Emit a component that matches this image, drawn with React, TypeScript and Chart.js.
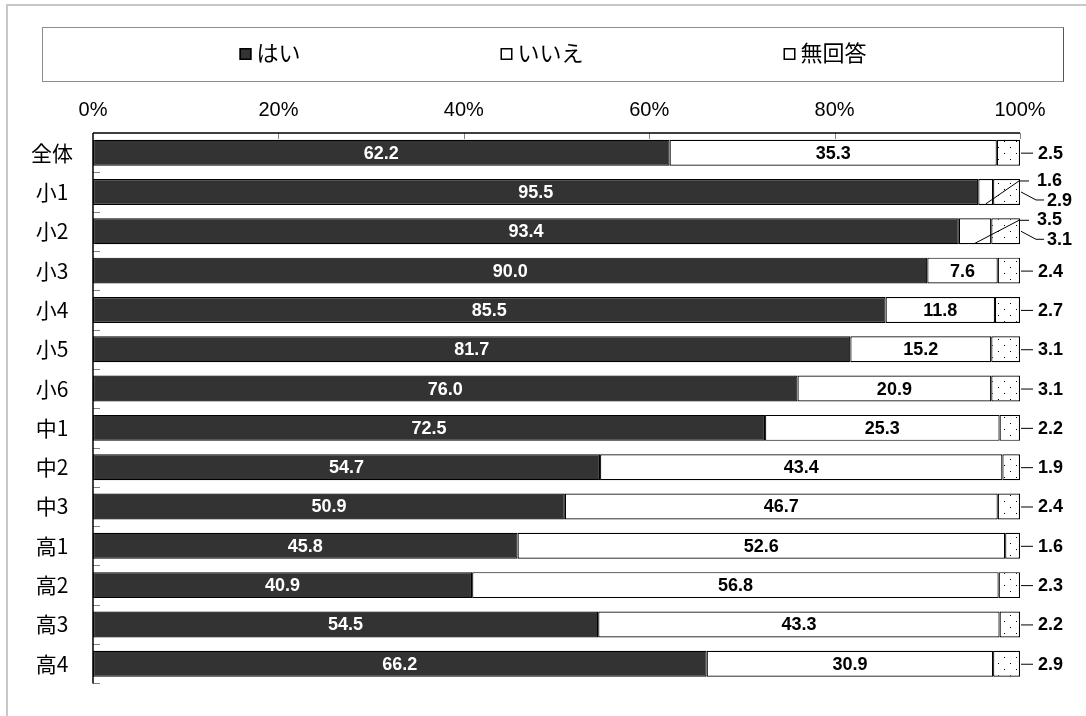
import React, { useEffect, useRef } from 'react';
import { Chart, registerables } from 'chart.js';

Chart.register(...registerables);

const categories = ['全体', '小1', '小2', '小3', '小4', '小5', '小6', '中1', '中2', '中3', '高1', '高2', '高3', '高4'];
const yesValues = [62.2, 95.5, 93.4, 90.0, 85.5, 81.7, 76.0, 72.5, 54.7, 50.9, 45.8, 40.9, 54.5, 66.2];
const noValues = [35.3, 1.6, 3.5, 7.6, 11.8, 15.2, 20.9, 25.3, 43.4, 46.7, 52.6, 56.8, 43.3, 30.9];
const naValues = [2.5, 2.9, 3.1, 2.4, 2.7, 3.1, 3.1, 2.2, 1.9, 2.4, 1.6, 2.3, 2.2, 2.9];
const seriesNames = ['はい', 'いいえ', '無回答'];
const tickStep = 20;

const CJK = '"Noto Sans CJK JP", "Noto Sans", sans-serif';
const NUM = '"Liberation Sans", Arial, sans-serif';
const NARROW = '"Liberation Sans Narrow", "Liberation Sans", Arial, sans-serif';

function makeDotPattern(): CanvasPattern | string {
  const c = document.createElement('canvas');
  c.width = 12;
  c.height = 12;
  const g = c.getContext('2d');
  if (!g) return '#fff';
  g.fillStyle = '#fff';
  g.fillRect(0, 0, 12, 12);
  g.fillStyle = '#000';
  g.fillRect(2, 3, 1, 1);
  g.fillRect(8, 9, 1, 1);
  return g.createPattern(c, 'repeat') ?? '#fff';
}

const framePlugin = {
  id: 'frameLegend',
  afterDraw(chart: any) {
    const ctx = chart.ctx as CanvasRenderingContext2D;
    ctx.save();
    // outer frame
    ctx.strokeStyle = '#c8c8c8';
    ctx.lineWidth = 2;
    ctx.beginPath();
    ctx.moveTo(7, 716);
    ctx.lineTo(7, 5);
    ctx.lineTo(1086, 5);
    ctx.stroke();
    // legend box
    ctx.strokeStyle = '#8c8c8c';
    ctx.lineWidth = 1;
    ctx.strokeRect(42.5, 27.5, 1021, 54);
    ctx.strokeStyle = '#555';
    ctx.beginPath();
    ctx.moveTo(1063.5, 27.5);
    ctx.lineTo(1063.5, 81.5);
    ctx.stroke();
    // legend items
    ctx.font = `22px ${CJK}`;
    ctx.textBaseline = 'middle';
    ctx.textAlign = 'left';
    const box = 12;
    const gapText = 5;
    const gapItems = 200;
    const widths = seriesNames.map((n) => box + gapText + ctx.measureText(n).width);
    const total = widths.reduce((a, b) => a + b, 0) + gapItems * (seriesNames.length - 1);
    let x = 553 - total / 2;
    const cy = 54;
    seriesNames.forEach((n, i) => {
      ctx.fillStyle = i === 0 ? '#333333' : '#ffffff';
      ctx.fillRect(x, cy - box / 2, box, box);
      ctx.strokeStyle = '#000';
      ctx.lineWidth = 1.5;
      ctx.strokeRect(x + 0.75, cy - box / 2 + 0.75, box - 1.5, box - 1.5);
      ctx.fillStyle = '#000';
      ctx.fillText(n, x + box + gapText, cy - 1);
      x += widths[i] + gapItems;
    });
    ctx.restore();
  },
};

const axesPlugin = {
  id: 'axesDeco',
  afterDatasetsDraw(chart: any) {
    const ctx = chart.ctx as CanvasRenderingContext2D;
    const { left, right, top, bottom } = chart.chartArea;
    const xs = chart.scales.x;
    const n = categories.length;
    const catH = (bottom - top) / n;
    ctx.save();
    // small marks on left axis at category boundaries
    ctx.strokeStyle = '#808080';
    ctx.lineWidth = 1;
    for (let k = 1; k <= n; k++) {
      const y = Math.round(top + k * catH) + 0.5;
      ctx.beginPath();
      ctx.moveTo(left, y);
      ctx.lineTo(left + 7, y);
      ctx.stroke();
    }
    // small marks at top for x ticks
    for (let v = tickStep; v <= 100; v += tickStep) {
      const x = Math.round(xs.getPixelForValue(v)) + 0.5;
      ctx.beginPath();
      ctx.moveTo(x, top);
      ctx.lineTo(x, top + 6);
      ctx.stroke();
    }
    // axis lines
    ctx.strokeStyle = '#000';
    ctx.lineWidth = 1.5;
    ctx.beginPath();
    ctx.moveTo(left, top);
    ctx.lineTo(right, top);
    ctx.moveTo(left, top);
    ctx.lineTo(left, bottom);
    ctx.stroke();
    ctx.restore();
  },
};

const labelPlugin = {
  id: 'valueLabels',
  afterDatasetsDraw(chart: any) {
    const ctx = chart.ctx as CanvasRenderingContext2D;
    const xs = chart.scales.x;
    const x100 = xs.getPixelForValue(100);
    const yesMeta = chart.getDatasetMeta(0);
    const noMeta = chart.getDatasetMeta(1);
    ctx.save();
    ctx.textBaseline = 'middle';
    ctx.lineWidth = 1;
    ctx.strokeStyle = '#000';
    categories.forEach((_, j) => {
      const ye = yesMeta.data[j] as any;
      const ne = noMeta.data[j] as any;
      const cy = ye.y;
      const h = ye.height;
      ctx.font = `bold 18px ${NUM}`;
      // yes label
      ctx.fillStyle = '#fff';
      ctx.textAlign = 'center';
      ctx.fillText(yesValues[j].toFixed(1), (ye.x + ye.base) / 2, cy + 1);
      ctx.fillStyle = '#000';
      if (noValues[j] >= 5) {
        ctx.textAlign = 'center';
        ctx.fillText(noValues[j].toFixed(1), (ne.x + ne.base) / 2, cy + 1);
        // na label with short leader
        ctx.beginPath();
        ctx.moveTo(x100 + 1, cy + 0.5);
        ctx.lineTo(x100 + 13, cy + 0.5);
        ctx.stroke();
        ctx.textAlign = 'left';
        ctx.fillText(naValues[j].toFixed(1), x100 + 18, cy + 1);
      } else {
        const midX = (ne.x + ne.base) / 2;
        ctx.beginPath();
        ctx.moveTo(midX, cy + h / 2 - 1);
        ctx.lineTo(x100 - 1, cy - 11);
        ctx.lineTo(x100 + 9, cy - 11);
        ctx.stroke();
        ctx.textAlign = 'left';
        ctx.fillText(noValues[j].toFixed(1), x100 + 17, cy - 11);
        ctx.beginPath();
        ctx.moveTo(x100 + 1, cy);
        ctx.lineTo(x100 + 16, cy + 8);
        ctx.lineTo(x100 + 24, cy + 8);
        ctx.stroke();
        ctx.fillText(naValues[j].toFixed(1), x100 + 27, cy + 9);
      }
    });
    ctx.restore();
  },
};

export default function App() {
  const ref = useRef<HTMLCanvasElement>(null);
  useEffect(() => {
    if (!ref.current) return;
    const dots = makeDotPattern();
    const chart = new Chart(ref.current, {
      type: 'bar',
      data: {
        labels: categories,
        datasets: [
          { label: seriesNames[0], data: yesValues, backgroundColor: '#333333', borderColor: '#000', borderWidth: 1.2, borderSkipped: false },
          { label: seriesNames[1], data: noValues, backgroundColor: '#ffffff', borderColor: '#000', borderWidth: 1.2, borderSkipped: false },
          { label: seriesNames[2], data: naValues, backgroundColor: dots as any, borderColor: '#000', borderWidth: 1.2, borderSkipped: false },
        ],
      },
      options: {
        indexAxis: 'y',
        responsive: false,
        animation: false,
        devicePixelRatio: 1,
        layout: { padding: { left: 0, top: 0, right: 66, bottom: 27 } },
        datasets: { bar: { categoryPercentage: 1, barPercentage: 0.66 } },
        plugins: { legend: { display: false }, tooltip: { enabled: false } },
        scales: {
          x: {
            type: 'linear',
            position: 'top',
            min: 0,
            max: 100,
            stacked: true,
            grid: { display: false, drawTicks: false },
            border: { display: false },
            ticks: {
              stepSize: tickStep,
              autoSkip: false,
              maxRotation: 0,
              padding: 11,
              color: '#000',
              font: { family: NARROW, size: 20 },
              callback: (v: any) => `${v}%`,
            },
            afterFit: (s: any) => {
              s.height = 133;
            },
          },
          y: {
            stacked: true,
            grid: { display: false, drawTicks: false },
            border: { display: false },
            ticks: {
              color: '#000',
              crossAlign: 'center',
              padding: 20,
              font: { family: CJK, size: 21 },
            },
            afterFit: (s: any) => {
              s.width = 93;
            },
          },
        },
      },
      plugins: [framePlugin, axesPlugin, labelPlugin],
    } as any);
    return () => chart.destroy();
  }, []);
  return (
    <div style={{ position: 'absolute', left: 0, top: 0, width: 1086, height: 716, background: '#fff' }}>
      <canvas ref={ref} width={1086} height={716} style={{ display: 'block', width: 1086, height: 716 }} />
    </div>
  );
}
